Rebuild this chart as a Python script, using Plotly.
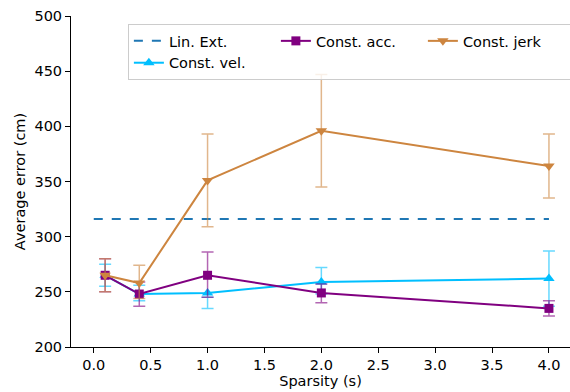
import plotly.graph_objects as go

sparsity = [0.1, 0.4, 1.0, 2.0, 4.0]
lin_ext_x = [0.0, 4.0]
lin_ext_y = [316, 316]

vel = [265, 248, 249, 259, 262]
vel_hi = [275, 256, 245, 272, 287]
vel_lo = [255, 242, 235, 248, 237]

acc = [265, 248, 265, 249, 235]
acc_hi = [280, 259, 286, 257, 242]
acc_lo = [250, 237, 245, 240, 228]

jerk = [265, 258, 351, 396, 364]
jerk_hi = [280, 274, 393, 447, 393]
jerk_lo = [250, 244, 309, 345, 335]

BLUE = "#1f77b4"
VEL = "#00bfff"
ACC = "#800080"
JERK = "#cd853f"
FS = 14.5


def err(vals, hi, lo, color):
    return dict(type="data", symmetric=False,
                array=[h - v for h, v in zip(hi, vals)],
                arrayminus=[v - l for l, v in zip(lo, vals)],
                color=color, thickness=1.5, width=6)


fig = go.Figure()
fig.add_trace(go.Scatter(x=lin_ext_x, y=lin_ext_y, mode="lines", name="Lin. Ext.",
                         line=dict(color=BLUE, width=2, dash="dash"), legendrank=1))
fig.add_trace(go.Scatter(x=sparsity, y=vel, mode="lines+markers", name="Const. vel.",
                         line=dict(color=VEL, width=2),
                         marker=dict(symbol="triangle-up", size=10, color=VEL),
                         error_y=err(vel, vel_hi, vel_lo, "rgba(0,191,255,0.6)"), legendrank=4))
fig.add_trace(go.Scatter(x=sparsity, y=acc, mode="lines+markers", name="Const. acc.",
                         line=dict(color=ACC, width=2),
                         marker=dict(symbol="square", size=9, color=ACC),
                         error_y=err(acc, acc_hi, acc_lo, "rgba(128,0,128,0.6)"), legendrank=2))
fig.add_trace(go.Scatter(x=sparsity, y=jerk, mode="lines+markers", name="Const. jerk",
                         line=dict(color=JERK, width=2),
                         marker=dict(symbol="triangle-down", size=10, color=JERK),
                         error_y=err(jerk, jerk_hi, jerk_lo, "rgba(205,133,63,0.6)"), legendrank=3))

font = dict(family="DejaVu Sans", size=FS, color="#000")
fig.update_layout(
    width=570, height=392,
    margin=dict(l=71, r=0, t=16, b=45, autoexpand=False),
    paper_bgcolor="white", plot_bgcolor="white",
    font=font,
    showlegend=True,
    legend=dict(orientation="h", x=0.114, xanchor="left", y=0.976, yanchor="top",
                bgcolor="rgba(255,255,255,0.8)", bordercolor="#cccccc", borderwidth=1,
                entrywidth=102, font=dict(family="DejaVu Sans", size=FS), traceorder="normal"),
    xaxis=dict(range=[-0.2, 4.185], tickvals=[0, 0.5, 1, 1.5, 2, 2.5, 3, 3.5, 4],
               ticktext=["0.0", "0.5", "1.0", "1.5", "2.0", "2.5", "3.0", "3.5", "4.0"],
               showgrid=False, zeroline=False, showline=True, linecolor="black", linewidth=1,
               ticks="outside", ticklen=5, tickcolor="black", automargin=False,
               tickfont=dict(size=FS),
               title=dict(text="Sparsity (s)", standoff=3, font=dict(size=FS))),
    yaxis=dict(range=[200, 500], tickvals=[200, 250, 300, 350, 400, 450, 500],
               showgrid=False, zeroline=False, showline=True, linecolor="black", linewidth=1,
               ticks="outside", ticklen=5, tickcolor="black", automargin=False,
               tickfont=dict(size=FS),
               title=dict(text="Average error (cm)", standoff=5, font=dict(size=FS))),
)
fig.write_html("out.html", config={"displayModeBar": False},
               post_script="document.body.style.margin='0';document.body.style.overflow='hidden';")
